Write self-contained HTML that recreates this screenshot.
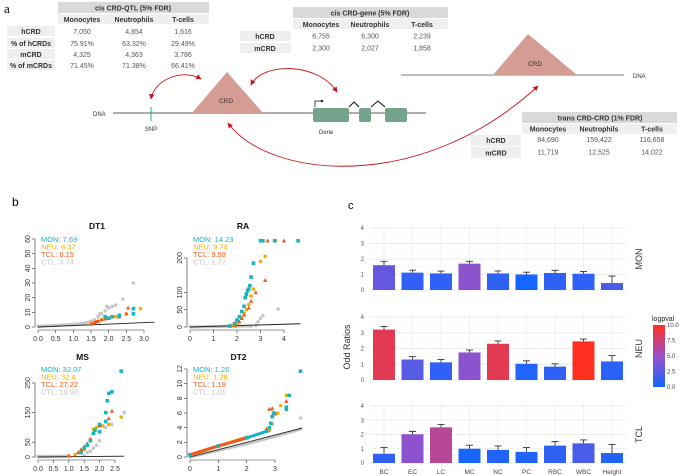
<!DOCTYPE html>
<html><head><meta charset="utf-8"><style>
html,body{margin:0;padding:0;background:#fff}
svg{display:block;font-family:"Liberation Sans",Arial,sans-serif}
</style></head><body>
<svg id="fig" width="682" height="476" viewBox="0 0 682 476" xmlns="http://www.w3.org/2000/svg">
<defs>
<marker id="ah" viewBox="0 0 10 10" refX="9" refY="5" markerWidth="6" markerHeight="6" orient="auto-start-reverse"><path d="M0,0 L10,5 L0,10 z" fill="#c8141c"/></marker>
<linearGradient id="cbar" x1="0" y1="1" x2="0" y2="0"><stop offset="0" stop-color="#1565ff"/><stop offset="0.5" stop-color="#9a50c8"/><stop offset="1" stop-color="#ff3020"/></linearGradient>
</defs>
<g id="panelA">
<text x="4" y="13" font-size="13" font-family="Liberation Serif,serif">a</text>
<g font-size="7" text-anchor="middle">
<rect x="58" y="2" width="151" height="11" fill="#d9d9d9"/>
<text x="133" y="10.5" font-weight="bold" fill="#333">cis CRD-QTL (5% FDR)</text>
<rect x="58" y="14" width="151" height="10" fill="#efefef"/>
<text x="82" y="22" font-weight="bold" fill="#333">Monocytes</text><text x="134" y="22" font-weight="bold" fill="#333">Neutrophils</text><text x="183" y="22" font-weight="bold" fill="#333">T-cells</text>
<rect x="7" y="26" width="48" height="10" fill="#efefef"/><rect x="7" y="38" width="48" height="10" fill="#efefef"/><rect x="7" y="49" width="48" height="10" fill="#efefef"/><rect x="7" y="60" width="48" height="10" fill="#efefef"/>
<text x="31" y="34" font-weight="bold" fill="#333">hCRD</text><text x="31" y="46" font-weight="bold" fill="#333">% of hCRDs</text><text x="31" y="57" font-weight="bold" fill="#333">mCRD</text><text x="31" y="68" font-weight="bold" fill="#333">% of mCRDs</text>
<g fill="#555"><text x="82" y="34">7,050</text><text x="134" y="34">4,854</text><text x="183" y="34">1,616</text>
<text x="82" y="46">75.91%</text><text x="134" y="46">63.32%</text><text x="183" y="46">29.49%</text>
<text x="82" y="57">4,325</text><text x="134" y="57">4,363</text><text x="183" y="57">3,786</text>
<text x="82" y="68">71.45%</text><text x="134" y="68">71.38%</text><text x="183" y="68">66.41%</text></g>
</g>
<g font-size="7" text-anchor="middle">
<rect x="293" y="7" width="155" height="11" fill="#d9d9d9"/>
<text x="370" y="15.5" font-weight="bold" fill="#333">cis CRD-gene  (5% FDR)</text>
<rect x="293" y="19" width="155" height="10" fill="#efefef"/>
<text x="321" y="27" font-weight="bold" fill="#333">Monocytes</text><text x="370" y="27" font-weight="bold" fill="#333">Neutrophils</text><text x="422" y="27" font-weight="bold" fill="#333">T-cells</text>
<rect x="240" y="31" width="51" height="10" fill="#efefef"/><rect x="240" y="43" width="51" height="10" fill="#efefef"/>
<text x="265" y="39" font-weight="bold" fill="#333">hCRD</text><text x="265" y="51" font-weight="bold" fill="#333">mCRD</text>
<g fill="#555"><text x="321" y="38.5">6,755</text><text x="370" y="38.5">6,300</text><text x="422" y="38.5">2,239</text>
<text x="321" y="50.5">2,300</text><text x="370" y="50.5">2,027</text><text x="422" y="50.5">1,858</text></g>
</g>
<g font-size="7" text-anchor="middle">
<rect x="522" y="112" width="155" height="11" fill="#d9d9d9"/>
<text x="600" y="120.5" font-weight="bold" fill="#333">trans CRD-CRD  (1% FDR)</text>
<rect x="522" y="124" width="155" height="10" fill="#efefef"/>
<text x="548" y="131.5" font-weight="bold" fill="#333">Monocytes</text><text x="599" y="131.5" font-weight="bold" fill="#333">Neutrophils</text><text x="652" y="131.5" font-weight="bold" fill="#333">T-cells</text>
<rect x="471" y="135" width="50" height="11" fill="#efefef"/><rect x="471" y="147" width="50" height="11" fill="#efefef"/>
<text x="496" y="143" font-weight="bold" fill="#333">hCRD</text><text x="496" y="155.5" font-weight="bold" fill="#333">mCRD</text>
<g fill="#555"><text x="548" y="142">84,690</text><text x="599" y="142">159,422</text><text x="652" y="142">116,658</text>
<text x="548" y="154.5">11,719</text><text x="599" y="154.5">12,525</text><text x="652" y="154.5">14,022</text></g>
</g>
<text x="93" y="116" font-size="6" fill="#333">DNA</text>
<line x1="113" y1="113" x2="426" y2="113" stroke="#222" stroke-width="0.8"/>
<line x1="151" y1="107" x2="151" y2="121" stroke="#22a88a" stroke-width="1"/>
<text x="151" y="131" font-size="6" fill="#333" text-anchor="middle">SNP</text>
<polygon points="192,113 263,113 227,72" fill="#d49c92"/>
<text x="226" y="103" font-size="6.5" fill="#333" text-anchor="middle">CRD</text>
<g>
<rect x="313" y="108" width="36" height="14" rx="2" fill="#73a38a"/>
<rect x="359" y="108" width="12" height="14" rx="2" fill="#73a38a"/>
<rect x="385" y="108" width="22" height="14" rx="2" fill="#73a38a"/>
<path d="M349,107 L354,102 L359,107 M371,107 L378,101 L385,107" fill="none" stroke="#111" stroke-width="1"/>
<path d="M315,107 L315,101 L322,101" fill="none" stroke="#111" stroke-width="0.8"/>
<path d="M321,99.5 L324,101 L321,102.5 z" fill="#111"/>
<text x="326" y="134" font-size="6" fill="#333" text-anchor="middle">Gene</text>
</g>
<line x1="401" y1="75" x2="624" y2="75" stroke="#555" stroke-width="0.8"/>
<text x="633" y="78" font-size="6" fill="#333">DNA</text>
<polygon points="493,75 577,75 528,34" fill="#d49c92"/>
<text x="535" y="66" font-size="6.5" fill="#333" text-anchor="middle">CRD</text>
<g fill="none" stroke="#c8141c" stroke-width="0.9">
<path d="M151,99 C154,80 182,68 201,79" marker-start="url(#ah)" marker-end="url(#ah)"/>
<path d="M251,85 C262,62 318,62 337,92" marker-start="url(#ah)" marker-end="url(#ah)"/>
<path d="M228,123 C268,178 420,195 538,86" marker-start="url(#ah)" marker-end="url(#ah)"/>
</g>
</g>
<g id="panelB">
<text x="12" y="206" font-size="12">b</text>
</g>
<g id="panelC">
<text x="348" y="209" font-size="11">c</text>
<text transform="translate(350,347) rotate(-90)" font-size="9" fill="#333" text-anchor="middle">Odd Ratios</text>
<g>
<text x="652" y="321" font-size="7" fill="#222">logpval</text>
<rect x="653" y="325" width="12" height="62" fill="url(#cbar)"/>
<g font-size="6" fill="#444"><text x="667" y="327">10.0</text><text x="667" y="342.5">7.5</text><text x="667" y="358">5.0</text><text x="667" y="373.5">2.5</text><text x="667" y="389">0.0</text></g>
</g>
</g>
</svg>
<script>
const categories = ["BC","EC","LC","MC","NC","PC","RBC","WBC","Height"];
const facetNames = ["MON","NEU","TCL"];
const monOR  = [1.6,1.12,1.07,1.7,1.07,1.0,1.1,1.05,0.45];
const monErr = [1.85,1.28,1.22,1.85,1.23,1.15,1.27,1.2,0.9];
const monLogp = [3,1,1,4.5,1,0,1,1,2];
const neuOR  = [3.2,1.3,1.12,1.75,2.3,1.03,0.85,2.45,1.18];
const neuErr = [3.4,1.48,1.3,1.9,2.48,1.22,1.03,2.6,1.55];
const neuLogp = [8.5,2.5,1,4.5,8.5,0.5,1,10,0.8];
const tclOR  = [0.65,2.02,2.5,1.0,0.92,0.78,1.22,1.38,0.7];
const tclErr = [1.08,2.22,2.7,1.25,1.2,1.08,1.5,1.62,1.3];
const tclLogp = [1,4.5,6.5,0,0.5,0.5,1,2,0.5];
const yTicksC = [0,1,2,3,4];

const dt1Ctl = [[0,0.5],[0.5,1],[1,1.8],[1.3,2.5],[1.5,4],[1.6,5],[1.7,7],[1.75,9],[1.8,9],[1.9,11],[1.95,14],[2.0,13],[2.1,14],[2.2,15],[2.4,19],[2.7,30]];
const dt1Mon = [[1.9,7],[2.0,6],[2.1,7],[2.3,8],[2.7,9],[2.7,12.5]];
const dt1Neu = [[1.5,2],[1.8,5],[1.9,6],[2.1,7],[2.2,7],[2.5,9],[2.9,12.5]];
const dt1Tcl = [[1.5,2],[1.6,3],[1.7,4],[1.8,5],[1.9,5.5],[2.0,6],[2.3,7],[2.5,9],[2.55,13]];
const raCtl = [[0,0],[1,1],[2,2],[2.6,3],[2.8,5],[2.9,15],[3.0,25],[3.1,33],[3.75,52]];
const raMon = [[1.7,3],[1.9,10],[2.0,20],[2.1,30],[2.2,45],[2.3,60],[2.35,85],[2.4,95],[2.45,105],[2.5,110],[2.55,120],[2.6,145],[2.7,185],[3.0,250],[3.1,250],[3.6,250],[4.6,250]];
const raNeu = [[1.8,5],[2.0,10],[2.2,25],[2.3,40],[2.4,50],[2.5,65],[2.6,90],[2.7,110],[3.0,190],[3.2,205],[3.65,250]];
const raTcl = [[1.7,3],[1.9,5],[2.1,15],[2.2,25],[2.3,35],[2.5,55],[2.6,75],[2.8,100],[3.2,135],[3.3,250],[4.0,250]];
const msCtl = [[0,2],[1,3],[1.5,5],[1.6,15],[1.7,20],[1.8,30],[1.9,40],[2.0,55],[2.2,100],[2.4,110],[2.8,150]];
const msMon = [[1.4,15],[1.5,30],[1.6,40],[1.7,55],[1.8,80],[1.85,90],[2.0,85],[2.0,110],[2.2,120],[2.2,150],[2.25,190],[2.3,215],[2.4,220],[2.7,290]];
const msNeu = [[1.2,8],[1.5,25],[1.6,40],[1.7,60],[1.8,95],[1.9,100],[2.1,105],[2.3,110],[2.7,135]];
const msTcl = [[1.0,5],[1.3,15],[1.4,25],[1.5,35],[1.6,45],[1.7,60],[1.8,80],[2.0,105],[2.3,130],[2.4,155]];
const dt2Ctl = [[0,0],[1,0.9],[2,1.8],[3,2.8],[3.9,3.8],[3.9,5.3]];
const dt2Mon = [[0,0.3],[1,1.5],[2,2.6],[2.7,3.5],[2.8,4],[2.85,4.6],[2.9,5.5],[2.95,6],[3.4,6.5],[3.4,6.8],[3.5,8.4],[3.9,11.7]];
const dt2Neu = [[0,0.3],[1,1.5],[2,2.7],[2.8,3.6],[2.9,4.5],[3.0,5.8],[3.1,6.0],[3.2,7.0],[3.4,8.4]];
const dt2Tcl = [[0,0.3],[1,1.5],[2,2.6],[2.7,3.8],[2.8,6.5],[2.9,6.6],[3.0,6.0],[3.4,7.6]];
const dt1Lambda = ["MON: 7.69","NEU: 6.37","TCL: 6.15","CTL: 3.74"];
const raLambda = ["MON: 14.23","NEU: 9.74","TCL: 9.59","CTL: 1.72"];
const msLambda = ["MON: 32.07","NEU: 32.4","TCL: 27.22","CTL: 19.98"];
const dt2Lambda = ["MON: 1.26","NEU: 1.28","TCL: 1.19","CTL: 1.01"];
const dt1XTicks = [0,0.5,1,1.5,2,2.5,3], dt1YTicks = [0,10,20,30,40,50,60];
const raXTicks = [0,1,2,3,4], raYTicks = [0,50,100,200];
const msXTicks = [0,0.5,1,1.5,2,2.5], msYTicks = [0,50,150,250];
const dt2XTicks = [0,1,2,3], dt2YTicks = [0,2,4,6,8,10,12];

const NS = "http://www.w3.org/2000/svg";
function mk(tag, attrs, parent){const e=document.createElementNS(NS,tag);for(const k in attrs)e.setAttribute(k,attrs[k]);parent.appendChild(e);return e;}

const colors = {MON:"#1ab3c3",NEU:"#f0b000",TCL:"#f25a1c",CTL:"#c6c6c6"};
function qq(title, cfg, ctl, mon, neu, tcl, lam, xt, yt, xfmt){
  const g = mk("g",{},document.getElementById("panelB"));
  
  
  const xs = v => cfg.x0 + v * (cfg.x1 - cfg.x0) / cfg.xv;
  const ys = v => cfg.y0 - v * (cfg.y0 - cfg.y1) / cfg.yv;
  const t = mk("text",{x:(cfg.x0+cfg.x1)/2+6, y:cfg.ty, "font-size":8.5, "font-weight":"bold","text-anchor":"middle",fill:"#111"},g);
  t.textContent = title;
  
  
  const ax = xs(0) - 3, ay = ys(0) + 3;
  mk("line",{x1:ax,y1:ys(yt[0]),x2:ax,y2:ys(yt[yt.length-1]),stroke:"#333","stroke-width":0.6},g);
  yt.forEach(v=>{mk("line",{x1:ax-3,y1:ys(v),x2:ax,y2:ys(v),stroke:"#333","stroke-width":0.6},g);
    const l=mk("text",{transform:`translate(${ax-5},${ys(v)}) rotate(-90)`,"font-size":7,"text-anchor":"middle",fill:"#333"},g);l.textContent=String(v);
    
    });
  mk("line",{x1:xs(xt[0]),y1:ay,x2:xs(xt[xt.length-1]),y2:ay,stroke:"#333","stroke-width":0.6},g);
  xt.forEach(v=>{mk("line",{x1:xs(v),y1:ay,x2:xs(v),y2:ay+3,stroke:"#333","stroke-width":0.6},g);
    const l=mk("text",{x:xs(v),y:ay+11,"font-size":7,"text-anchor":"middle",fill:"#333"},g);l.textContent=xfmt?v.toFixed(1):String(v);
    
    });
  function band(pts, col, lim){
    const b = mk("polyline",{points:pts.filter(p=>p[1]<lim).map(p=>xs(p[0])+","+ys(p[1])).join(" "),fill:"none",stroke:col,"stroke-width":3,"stroke-linecap":"round"},g);
    
    
  }
  function series(pts, col, shape, name){
    const sg = mk("g",{},g);
    
    
    pts.forEach(p=>{const cx=xs(p[0]),cy=ys(p[1]);let m;
      if(shape==="sq") m=mk("rect",{x:cx-1.8,y:cy-1.8,width:3.6,height:3.6,fill:col},sg);
      else if(shape==="tri") m=mk("polygon",{points:`${cx},${cy-2.3} ${cx-2.2},${cy+1.6} ${cx+2.2},${cy+1.6}`,fill:col},sg);
      else m=mk("circle",{cx:cx,cy:cy,r:1.8,fill:col},sg);
      
      });
  }
  band(ctl, colors.CTL, cfg.bandC);
  series(ctl, colors.CTL, "circ", "ctl");
  mk("line",{x1:xs(0),y1:ys(0),x2:xs(cfg.lx),y2:ys(cfg.lx*cfg.ls),stroke:"#222","stroke-width":0.9},g);
  band(mon, colors.MON, cfg.band);
  band(neu, colors.NEU, cfg.band);
  band(tcl, colors.TCL, cfg.band);
  series(neu, colors.NEU, "circ", "neu");
  series(tcl, colors.TCL, "tri", "tcl");
  series(mon, colors.MON, "sq", "mon");
  const lc=[colors.MON,colors.NEU,colors.TCL,colors.CTL];
  lam.forEach((s,i)=>{const l=mk("text",{x:xs(0)+3,y:cfg.ly+i*7.5,"font-size":7.5,fill:lc[i]},g);l.textContent=s;
    
    });
}
qq("DT1",{x0:38,x1:144,xv:3,y0:327,y1:239,yv:60,lx:3.3,ls:1,band:5,bandC:5,ty:229,ly:242},dt1Ctl,dt1Mon,dt1Neu,dt1Tcl,dt1Lambda,dt1XTicks,dt1YTicks,true);
qq("RA",{x0:190,x1:284,xv:4,y0:327,y1:258,yv:200,lx:4.7,ls:2,band:4,bandC:4,ty:229,ly:242},raCtl,raMon,raNeu,raTcl,raLambda,raXTicks,raYTicks,false);
qq("MS",{x0:38,x1:115,xv:2.5,y0:457,y1:383,yv:250,lx:2.8,ls:1,band:10,bandC:4,ty:360,ly:372},msCtl,msMon,msNeu,msTcl,msLambda,msXTicks,msYTicks,true);
qq("DT2",{x0:190,x1:275,xv:3,y0:457,y1:369,yv:12,lx:3.95,ls:1,band:3.6,bandC:4,ty:360,ly:372},dt2Ctl,dt2Mon,dt2Neu,dt2Tcl,dt2Lambda,dt2XTicks,dt2YTicks,false);

function colorFor(v){const t=Math.max(0,Math.min(1,v/10));
  const a=[21,101,255],m=[154,80,200],b=[255,48,32];
  const c = t<0.5 ? a.map((x,i)=>x+(m[i]-x)*t*2) : m.map((x,i)=>x+(b[i]-x)*(t-0.5)*2);
  return `rgb(${c.map(Math.round).join(",")})`;}
const pc = document.getElementById("panelC");
const facets = [
  {name:"MON", or:monOR, err:monErr, lp:monLogp, y0:290, y4:228},
  {name:"NEU", or:neuOR, err:neuErr, lp:neuLogp, y0:380, y4:317},
  {name:"TCL", or:tclOR, err:tclErr, lp:tclLogp, y0:463, y4:406}];
const px0 = 370, px1 = 627, xc = i => 384 + i * 28.5;
facets.forEach((f,fi)=>{
  const g = mk("g",{},pc);
  
  
  const ys = v => f.y0 - v*(f.y0-f.y4)/4;
  for(let v=0; v<=4; v+=0.5){mk("line",{x1:px0,y1:ys(v),x2:px1,y2:ys(v),stroke:v%1?"#f3f3f3":"#e6e6e6","stroke-width":v%1?0.5:0.7},g);}
  categories.forEach((c,i)=>mk("line",{x1:xc(i),y1:ys(4.2),x2:xc(i),y2:f.y0+3,stroke:"#ebebeb","stroke-width":0.7},g));
  yTicksC.forEach(v=>{const l=mk("text",{x:364,y:ys(v)+2,"font-size":6,"text-anchor":"end",fill:"#555"},g);l.textContent=String(v);
    
    });
  categories.forEach((c,i)=>{
    const b = mk("rect",{x:xc(i)-11,y:ys(f.or[i]),width:22,height:ys(0)-ys(f.or[i]),fill:colorFor(f.lp[i])},g);
    
    
    const e = mk("path",{d:`M${xc(i)},${ys(f.or[i])} V${ys(f.err[i])} M${xc(i)-3.5},${ys(f.err[i])} H${xc(i)+3.5}`,stroke:"#333","stroke-width":0.9,fill:"none"},g);
    
    
  });
  const s = mk("text",{transform:`translate(${642},${(f.y0+f.y4)/2}) rotate(-90)`,"font-size":9,"text-anchor":"middle",fill:"#333"},g);
  s.textContent = f.name;
  
  
});
categories.forEach((c,i)=>{const l=mk("text",{x:xc(i),y:474,"font-size":6.5,"text-anchor":"middle",fill:"#444"},pc);l.textContent=c;
  
  });
</script>
</body></html>
